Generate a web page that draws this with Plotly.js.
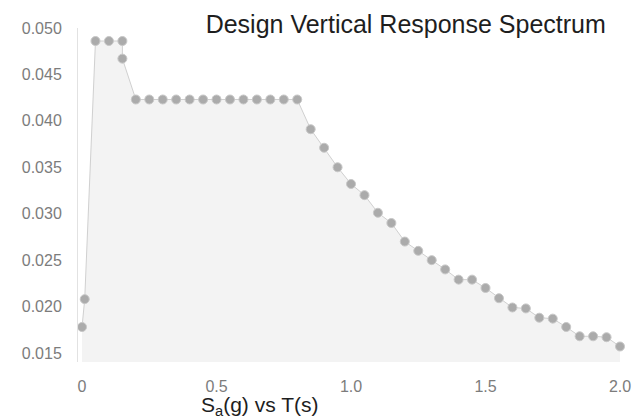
<!DOCTYPE html>
<html>
<head>
<meta charset="utf-8">
<script src="https://cdn.plot.ly/plotly-3.0.1.min.js"></script>
<style>html,body{margin:0;padding:0;background:#fff;}#chart{width:637px;height:419px;}</style>
</head>
<body>
<div id="chart"></div>
<script>
// Period T (s)
var periods = [0, 0.01, 0.05, 0.1, 0.15, 0.15,
  0.2, 0.25, 0.3, 0.35, 0.4, 0.45, 0.5, 0.55, 0.6, 0.65, 0.7, 0.75, 0.8,
  0.85, 0.9, 0.95, 1.0, 1.05, 1.1, 1.15, 1.2, 1.25, 1.3, 1.35, 1.4, 1.45,
  1.5, 1.55, 1.6, 1.65, 1.7, 1.75, 1.8, 1.85, 1.9, 1.95, 2.0];
// Spectral acceleration Sa (g)
var sa = [0.0178, 0.0208, 0.0486, 0.0486, 0.0486, 0.0467,
  0.0423, 0.0423, 0.0423, 0.0423, 0.0423, 0.0423, 0.0423, 0.0423, 0.0423, 0.0423, 0.0423, 0.0423, 0.0423,
  0.0391, 0.0371, 0.0350, 0.0332, 0.0320, 0.0301, 0.0290, 0.0270, 0.0260, 0.0250, 0.0240, 0.0229, 0.0229,
  0.0220, 0.0209, 0.0199, 0.0198, 0.0188, 0.0187, 0.0178, 0.0168, 0.0168, 0.0167, 0.0157];
var yTicks = [0.015, 0.020, 0.025, 0.030, 0.035, 0.040, 0.045, 0.050];
var xTicks = [0, 0.5, 1.0, 1.5, 2.0];
var xTickLabels = ['0', '0.5', '1.0', '1.5', '2.0'];
var chartTitle = 'Design Vertical Response Spectrum';
var xTitle = 'S<sub>a</sub>(g) vs T(s)';

var trace = {
  x: periods,
  y: sa,
  type: 'scatter',
  mode: 'lines+markers',
  fill: 'tozeroy',
  fillcolor: '#f3f3f3',
  line: {color: '#d0d0d0', width: 1},
  marker: {color: '#ababab', size: 9, line: {color: '#c8c8c8', width: 1}},
  cliponaxis: false,
  hoverinfo: 'x+y'
};

var layout = {
  width: 637,
  height: 419,
  margin: {l: 78, r: 17, t: 28, b: 57},
  paper_bgcolor: '#ffffff',
  plot_bgcolor: '#ffffff',
  showlegend: false,
  font: {family: 'Liberation Sans, Arial, sans-serif'},
  title: {
    text: chartTitle,
    font: {size: 25, color: '#1e1e1e', family: 'Liberation Sans, Arial, sans-serif'},
    x: 0.637, xanchor: 'center',
    y: 0.943, yanchor: 'middle', yref: 'container'
  },
  xaxis: {
    range: [-0.015, 2.0],
    tickmode: 'array',
    tickvals: xTicks,
    ticktext: xTickLabels,
    ticks: 'outside',
    ticklen: 10,
    tickcolor: 'rgba(0,0,0,0)',
    tickfont: {size: 16, color: '#7c7c7c'},
    showgrid: false,
    zeroline: false,
    showline: false
  },
  yaxis: {
    range: [0.01403, 0.050],
    tickmode: 'array',
    tickvals: yTicks,
    tickformat: '.3f',
    ticks: 'outside',
    ticklen: 12,
    tickcolor: 'rgba(0,0,0,0)',
    tickfont: {size: 16, color: '#7c7c7c'},
    showgrid: false,
    zeroline: false,
    showline: true,
    linecolor: '#e2e2e2',
    linewidth: 1
  },
  annotations: [{
    text: xTitle,
    xref: 'paper', yref: 'paper',
    x: 0.334, y: -0.133,
    xanchor: 'center', yanchor: 'middle',
    showarrow: false,
    font: {size: 21, color: '#1e1e1e', family: 'Liberation Sans, Arial, sans-serif'}
  }]
};

Plotly.newPlot('chart', [trace], layout, {displayModeBar: false, staticPlot: true});
</script>
</body>
</html>
